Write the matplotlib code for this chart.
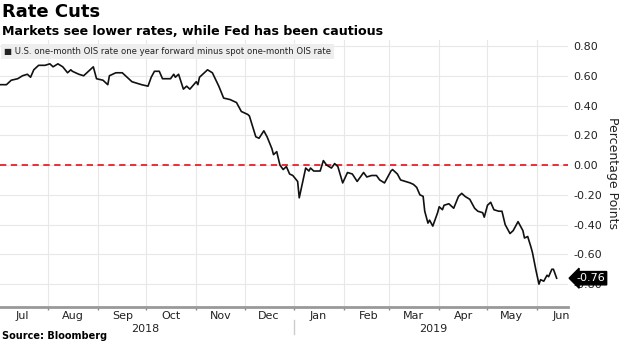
import matplotlib
matplotlib.use("Agg")
import matplotlib.pyplot as plt
import matplotlib.dates as mdates
import matplotlib.transforms as mtransforms
import pandas as pd

dates = ["2018-07-02", "2018-07-06", "2018-07-09", "2018-07-13", "2018-07-16", "2018-07-19",
         "2018-07-21", "2018-07-23", "2018-07-26", "2018-07-30", "2018-08-02", "2018-08-04",
         "2018-08-07", "2018-08-10", "2018-08-13", "2018-08-15", "2018-08-16", "2018-08-20",
         "2018-08-23", "2018-08-26", "2018-08-29", "2018-08-31", "2018-09-04", "2018-09-07",
         "2018-09-08", "2018-09-12", "2018-09-16", "2018-09-18", "2018-09-22", "2018-09-25",
         "2018-09-28", "2018-10-02", "2018-10-04", "2018-10-06", "2018-10-09", "2018-10-11",
         "2018-10-16", "2018-10-18", "2018-10-19", "2018-10-21", "2018-10-24", "2018-10-26",
         "2018-10-28", "2018-11-01", "2018-11-02", "2018-11-03", "2018-11-05", "2018-11-08",
         "2018-11-11", "2018-11-15", "2018-11-18", "2018-11-22", "2018-11-26", "2018-11-29",
         "2018-12-03", "2018-12-04", "2018-12-06", "2018-12-08", "2018-12-10", "2018-12-13",
         "2018-12-15", "2018-12-18", "2018-12-19", "2018-12-21", "2018-12-23", "2018-12-25",
         "2018-12-27", "2018-12-29", "2018-12-31", "2019-01-03", "2019-01-04", "2019-01-06",
         "2019-01-08", "2019-01-10", "2019-01-11", "2019-01-13", "2019-01-17", "2019-01-19",
         "2019-01-21", "2019-01-24", "2019-01-26", "2019-01-28", "2019-01-31", "2019-02-03",
         "2019-02-06", "2019-02-09", "2019-02-13", "2019-02-15", "2019-02-18", "2019-02-21",
         "2019-02-23", "2019-02-26", "2019-03-02", "2019-03-03", "2019-03-06", "2019-03-08",
         "2019-03-11", "2019-03-14", "2019-03-16", "2019-03-18", "2019-03-20", "2019-03-22",
         "2019-03-23", "2019-03-25", "2019-03-26", "2019-03-28", "2019-03-31", "2019-04-01",
         "2019-04-03", "2019-04-04", "2019-04-07", "2019-04-10", "2019-04-13", "2019-04-15",
         "2019-04-17", "2019-04-20", "2019-04-23", "2019-04-25", "2019-04-28", "2019-04-29",
         "2019-05-01", "2019-05-03", "2019-05-05", "2019-05-08", "2019-05-10", "2019-05-12",
         "2019-05-15", "2019-05-17", "2019-05-20", "2019-05-23", "2019-05-24", "2019-05-26",
         "2019-05-28", "2019-05-29", "2019-05-31", "2019-06-02", "2019-06-03", "2019-06-05",
         "2019-06-07", "2019-06-08", "2019-06-10", "2019-06-11", "2019-06-13"]
values = [0.54, 0.54, 0.57, 0.58, 0.60, 0.61,
          0.59, 0.64, 0.67, 0.67, 0.68, 0.66,
          0.68, 0.66, 0.62, 0.64, 0.63, 0.61,
          0.60, 0.63, 0.66, 0.58, 0.57, 0.54,
          0.60, 0.62, 0.62, 0.60, 0.56, 0.55,
          0.54, 0.53, 0.59, 0.63, 0.63, 0.58,
          0.58, 0.61, 0.59, 0.61, 0.51, 0.53,
          0.51, 0.56, 0.54, 0.59, 0.61, 0.64,
          0.62, 0.53, 0.45, 0.44, 0.42, 0.36,
          0.34, 0.33, 0.26, 0.19, 0.18, 0.23,
          0.19, 0.11, 0.07, 0.09, 0.00, -0.03,
          -0.01, -0.06, -0.07, -0.11, -0.22, -0.12,
          -0.02, -0.04, -0.02, -0.04, -0.04, 0.03,
          0.00, -0.02, 0.01, -0.01, -0.12, -0.05,
          -0.06, -0.11, -0.05, -0.08, -0.07, -0.07,
          -0.10, -0.12, -0.04, -0.03, -0.06, -0.10,
          -0.11, -0.12, -0.13, -0.15, -0.20, -0.21,
          -0.31, -0.39, -0.37, -0.41, -0.32, -0.28,
          -0.30, -0.27, -0.26, -0.29, -0.21, -0.19,
          -0.21, -0.23, -0.29, -0.31, -0.32, -0.35,
          -0.27, -0.25, -0.30, -0.31, -0.31, -0.40,
          -0.46, -0.44, -0.38, -0.44, -0.49, -0.48,
          -0.55, -0.59, -0.70, -0.80, -0.77, -0.78,
          -0.74, -0.75, -0.70, -0.70, -0.76]

y_ticks = [0.80, 0.60, 0.40, 0.20, 0.00, -0.20, -0.40, -0.60, -0.80]
last_label = "-0.76"

x = pd.to_datetime(dates)

fig = plt.figure(figsize=(6.2, 3.48), dpi=100)
ax = fig.add_axes([0.0, 0.118, 0.916, 0.767])

ax.plot(x, values, color="#111111", lw=1.2, zorder=3)
ax.axhline(0, color="#e8202a", lw=1.3, ls=(0, (3.5, 2.5)), zorder=2)

ax.set_xlim(pd.Timestamp("2018-07-02"), pd.Timestamp("2019-06-20"))
ax.set_ylim(-0.953, 0.84)

ax.xaxis.set_major_locator(mdates.MonthLocator())
ax.xaxis.set_major_formatter(plt.NullFormatter())
ax.xaxis.set_minor_locator(mdates.MonthLocator(bymonthday=16))
ax.xaxis.set_minor_formatter(mdates.DateFormatter("%b"))
ax.tick_params(axis="x", which="major", length=2, width=1, color="#888888")
ax.tick_params(axis="x", which="minor", length=0, labelsize=8, pad=3, labelcolor="#222222")

ax.yaxis.tick_right()
ax.set_yticks(y_ticks)
ax.set_yticklabels([f"{v:.2f}" for v in y_ticks])
ax.tick_params(axis="y", length=0, labelsize=8, pad=4, labelcolor="#222222")
ax.yaxis.set_label_position("right")
ax.set_ylabel("Percentage Points", rotation=270, fontsize=9, labelpad=12, color="#222222")

ax.grid(True, which="major", color="#e8e8e8", lw=0.8)
for s in ["top", "left", "right"]:
    ax.spines[s].set_visible(False)
ax.spines["bottom"].set_color("#999999")
ax.spines["bottom"].set_linewidth(2)

# year labels and separator
trans = mtransforms.blended_transform_factory(ax.transData, ax.transAxes)
ax.text(pd.Timestamp("2018-09-30"), -0.065, "2018", transform=trans, ha="center", va="top",
        fontsize=8, color="#222222")
ax.text(pd.Timestamp("2019-03-28"), -0.065, "2019", transform=trans, ha="center", va="top",
        fontsize=8, color="#222222")
ax.plot([pd.Timestamp("2019-01-01")] * 2, [-0.05, -0.10], transform=trans, color="#cccccc",
        lw=1, clip_on=False)

# last value tag (covers the -0.80 tick label as in the original)
ax.annotate(last_label, xy=(1.0, values[-1]), xycoords=("axes fraction", "data"),
            xytext=(6, 0), textcoords="offset points", ha="left", va="center",
            fontsize=8, color="white", zorder=10,
            bbox=dict(boxstyle="larrow,pad=0.15", fc="black", ec="black"))

# legend box
fig.text(0.006, 0.853, "\u25a0 U.S. one-month OIS rate one year forward minus spot one-month OIS rate",
         fontsize=6.1, color="#222222", va="center", ha="left",
         bbox=dict(boxstyle="square,pad=0.35", fc="#eeeeee", ec="none"))

fig.text(0.003, 0.965, "Rate Cuts", fontsize=13, fontweight="bold", va="center", ha="left")
fig.text(0.003, 0.91, "Markets see lower rates, while Fed has been cautious", fontsize=9.1,
         fontweight="bold", va="center", ha="left")
fig.text(0.003, 0.02, "Source: Bloomberg", fontsize=7, fontweight="bold", va="bottom", ha="left")

fig.savefig("out.png", dpi=100)
